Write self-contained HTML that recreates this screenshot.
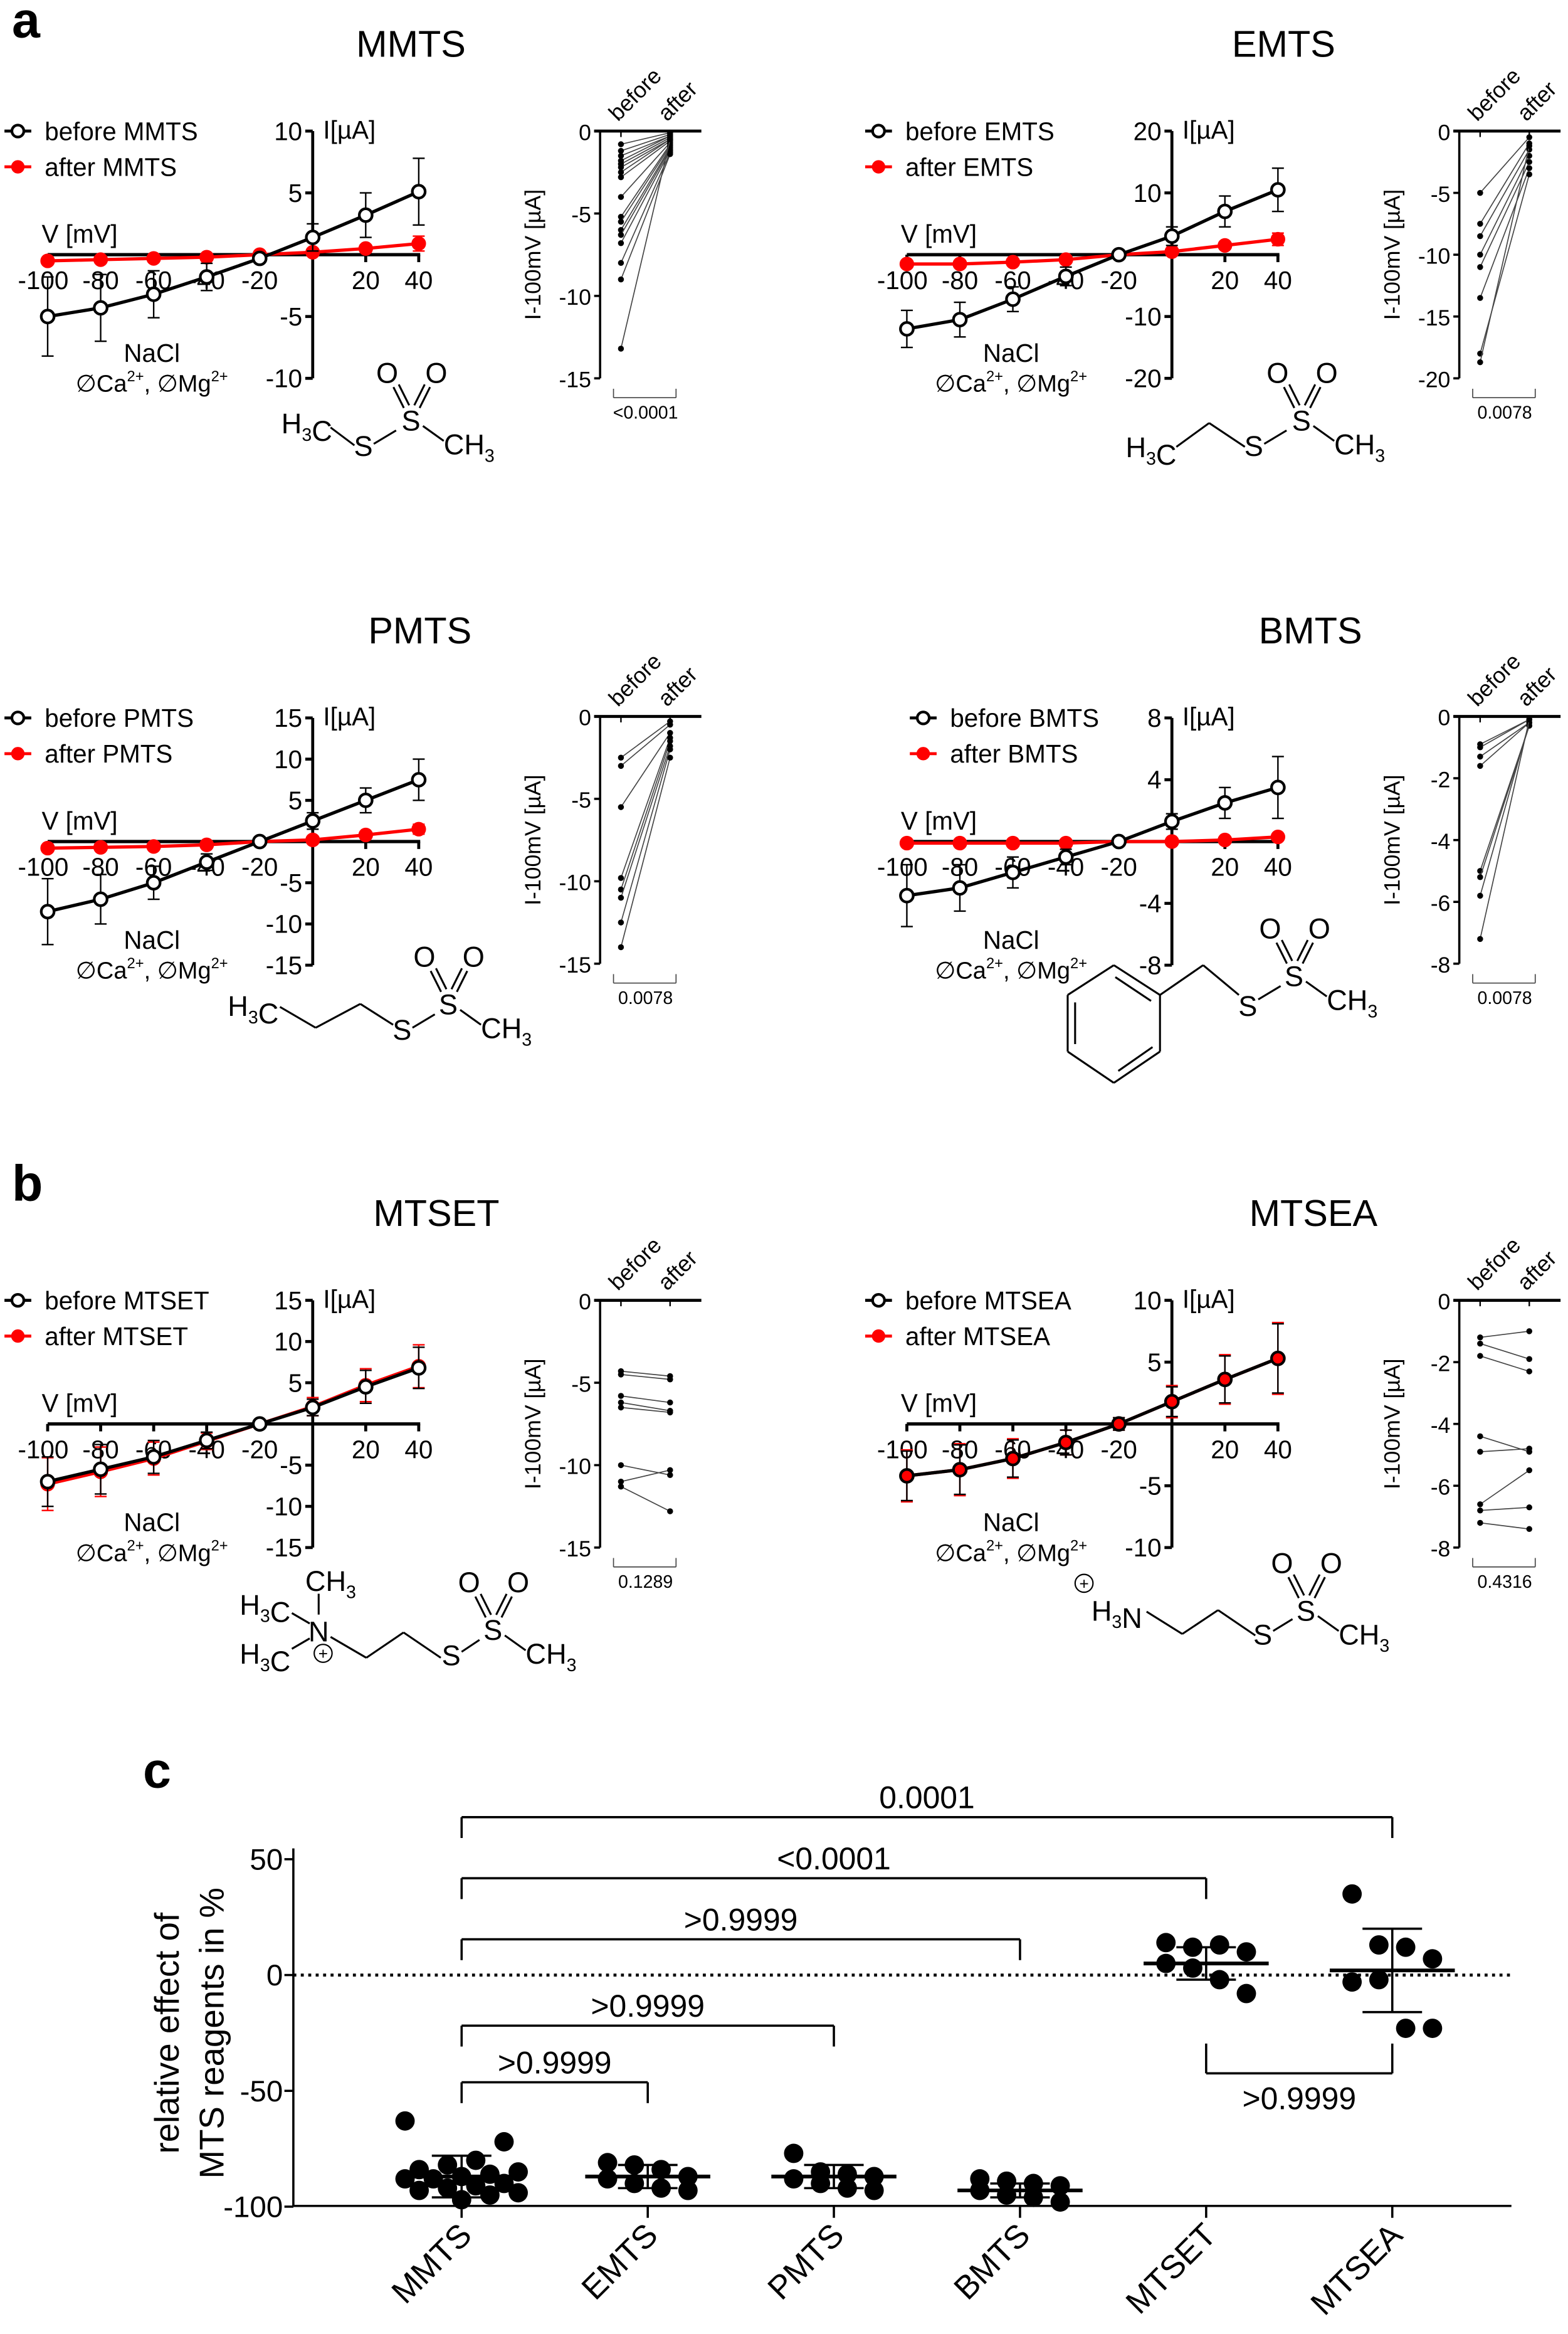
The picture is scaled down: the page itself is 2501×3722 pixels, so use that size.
<!DOCTYPE html>
<html><head><meta charset="utf-8"><style>
html,body{margin:0;padding:0;background:#fff}
svg{display:block}
text{font-family:"Liberation Sans",sans-serif;fill:#000}
</style></head><body>
<svg id="fig" xmlns="http://www.w3.org/2000/svg" width="2501" height="3722" viewBox="0 0 1053 1567" preserveAspectRatio="none">
<text x="8" y="25" font-size="34" font-weight="bold">a</text>
<text x="8" y="806" font-size="34" font-weight="bold">b</text>
<text x="96" y="1200" font-size="34" font-weight="bold">c</text>
</svg>
<script>
// ---------- IV data ----------
const volts = [-100,-80,-60,-40,-20,0,20,40];
const mmtsBefore = [-5,-4.3,-3.2,-1.8,-0.3,1.4,3.2,5.1];
const mmtsBeforeErr = [3.2,2.7,1.9,1.1,0.2,1.1,1.8,2.7];
const mmtsAfter = [-0.5,-0.4,-0.3,-0.2,0,0.2,0.5,0.9];
const mmtsAfterErr = [0.2,0.2,0.2,0.1,0.1,0.2,0.3,0.6];
const emtsBefore = [-12,-10.5,-7.2,-3.5,0,3,7,10.5];
const emtsBeforeErr = [3,2.8,2,1.5,0.5,1.5,2.5,3.5];
const emtsAfter = [-1.5,-1.5,-1.2,-0.8,0,0.5,1.5,2.5];
const emtsAfterErr = [0.3,0.3,0.3,0.2,0.2,0.3,0.5,1];
const pmtsBefore = [-8.5,-7,-5,-2.5,0,2.5,5,7.5];
const pmtsBeforeErr = [4,3,2,1,0.3,1,1.5,2.5];
const pmtsAfter = [-0.8,-0.7,-0.6,-0.4,0,0.2,0.8,1.5];
const pmtsAfterErr = [0.2,0.2,0.2,0.2,0.1,0.2,0.3,0.6];
const bmtsBefore = [-3.5,-3,-2,-1,0,1.3,2.5,3.5];
const bmtsBeforeErr = [2,1.5,1,0.5,0.2,0.5,1,2];
const bmtsAfter = [-0.1,-0.1,-0.1,-0.1,0,0,0.1,0.3];
const bmtsAfterErr = [0.05,0.05,0.05,0.05,0.05,0.05,0.1,0.2];
const mtsetBefore = [-7,-5.5,-4,-2,0,2,4.5,6.8];
const mtsetBeforeErr = [3,3,2,1,0.5,1,2,2.5];
const mtsetAfter = [-7.3,-5.8,-4.2,-2.1,0,2.1,4.7,7];
const mtsetAfterErr = [3.2,3,2,1,0.5,1.1,2,2.6];
const mtseaBefore = [-4.2,-3.7,-2.8,-1.5,0,1.8,3.6,5.3];
const mtseaBeforeErr = [2,2,1.5,1,0.5,1.2,1.9,2.8];
const mtseaAfter = [-4.2,-3.7,-2.8,-1.5,0,1.8,3.6,5.3];
const mtseaAfterErr = [2.1,2.1,1.6,1,0.5,1.3,2,2.9];
// ---------- paired data ----------
const mmtsPairBefore = [-0.8,-1.2,-1.5,-1.8,-2,-2.2,-2.5,-2.8,-4,-5.2,-5.5,-6,-6.3,-6.8,-8,-9,-13.2];
const mmtsPairAfter = [-0.1,-0.2,-0.3,-0.3,-0.4,-0.5,-0.5,-0.6,-0.7,-0.8,-0.9,-1,-1.1,-1.2,-1.3,-1.4,-0.5];
const emtsPairBefore = [-5,-7.5,-8.5,-10,-11,-13.5,-18,-18.7];
const emtsPairAfter = [-0.5,-1,-1.5,-2,-2.5,-3,-3.5,-1.2];
const pmtsPairBefore = [-2.5,-3,-5.5,-9.8,-10.5,-11,-12.5,-14];
const pmtsPairAfter = [-0.3,-0.5,-1,-1.3,-1.5,-1.8,-2,-2.5];
const bmtsPairBefore = [-0.9,-1,-1.3,-1.6,-5,-5.2,-5.8,-7.2];
const bmtsPairAfter = [-0.1,-0.1,-0.2,-0.2,-0.3,-0.3,-0.2,-0.1];
const mtsetPairBefore = [-4.3,-4.5,-5.8,-6.2,-6.5,-10,-11,-11.3];
const mtsetPairAfter = [-4.6,-4.8,-6.2,-6.7,-6.8,-10.6,-10.3,-12.8];
const mtseaPairBefore = [-1.2,-1.4,-1.8,-4.4,-4.9,-6.6,-6.8,-7.2];
const mtseaPairAfter = [-1,-1.9,-2.3,-4.9,-4.8,-5.5,-6.7,-7.4];
// ---------- panel c data ----------
const cCategories = ['MMTS','EMTS','PMTS','BMTS','MTSET','MTSEA'];
const cMmts = [-63,-72,-80,-82,-84,-85,-86,-87,-88,-88,-90,-91,-92,-93,-94,-95,-97];
const cEmts = [-81,-82,-84,-87,-88,-90,-92,-93];
const cPmts = [-77,-85,-86,-87,-88,-90,-92,-93];
const cBmts = [-88,-89,-90,-91,-93,-95,-96,-98];
const cMtset = [14,12,13,10,5,3,-2,-8];
const cMtsea = [35,13,12,7,-3,-2,-23,-23];
const cMeans = [-87,-87,-87,-93,5,2];
const cSds = [9,5,5,3,7,18];
const cYTicks = [50,0,-50,-100];
const cCompLabels = ['0.0001','<0.0001','>0.9999','>0.9999','>0.9999','>0.9999'];

const svg = document.getElementById('fig');
const NS = 'http://www.w3.org/2000/svg';
function el(tag, a, parent){ const e=document.createElementNS(NS,tag); for(const k in a) e.setAttribute(k,a[k]); (parent||svg).appendChild(e); return e; }
function line(x1,y1,x2,y2,w,c,name,p){ const e=el('line',{x1,y1,x2,y2,stroke:c||'#000','stroke-width':w||1.5},p);
  
   return e; }
function txt(x,y,s,size,anchor,name,p){ const e=el('text',{x,y,'font-size':size,'text-anchor':anchor||'start'},p); e.innerHTML=s;
  
   return e; }

function ivPanel(cfg){
  const g=el('g',{});
  
  
  const ax=cfg.ax;
  const sx=v=>ax+v*1.78;
  const sy=v=>cfg.yTopPx+(cfg.yMax-v)*(cfg.yBotPx-cfg.yTopPx)/(cfg.yMax-cfg.yMin);
  const y0=sy(0);
  txt(cfg.titleX, cfg.yTopPx-50, cfg.name, 25, 'middle', 'chart-title', g);
  line(ax,cfg.yTopPx,ax,cfg.yBotPx,2,'#000','y-axis',g);
  line(sx(-100),y0,sx(40)+1,y0,2.2,'#000','x-axis',g);
  cfg.yTicks.forEach(t=>{ line(ax-5,sy(t),ax,sy(t),2,'#000','y-tick',g); txt(ax-7,sy(t)+6,String(t),17,'end','y-tick-label',g); });
  volts.forEach(v=>{ if(v!==0){ line(sx(v),y0,sx(v),y0+5,2,'#000','x-tick',g); } });
  volts.forEach(v=>{ if(v!==0) txt(sx(v)+(v===-100?-3:0),y0+23,String(v),17,'middle','x-tick-label',g); });
  txt(sx(-100)-4,y0-8,'V [mV]',17,'start','x-axis-title',g);
  txt(ax+7,cfg.yTopPx+5,'I[µA]',17,'start','y-axis-title',g);
  const series=[[cfg.after,cfg.afterErr,'#f00','after'],[cfg.before,cfg.beforeErr,'#000','before']];
  series.forEach(([vals,errs,col,lab])=>{
    volts.forEach((v,i)=>{ const x=sx(v);
      line(x,sy(vals[i]+errs[i]),x,sy(vals[i]-errs[i]),1,col,lab+'-error-bar',g);
      line(x-4,sy(vals[i]+errs[i]),x+4,sy(vals[i]+errs[i]),1,col,lab+'-error-cap',g);
      line(x-4,sy(vals[i]-errs[i]),x+4,sy(vals[i]-errs[i]),1,col,lab+'-error-cap',g); });
    const pl=el('polyline',{points:volts.map((v,i)=>sx(v)+','+sy(vals[i])).join(' '),fill:'none',stroke:col,'stroke-width':2.2},g);
    
    
    volts.forEach((v,i)=>{ const c=el('circle',{cx:sx(v),cy:sy(vals[i]),r:lab==='before'?4.3:4,fill:lab==='before'?(cfg.filledBefore?'#f00':'#fff'):'#f00',stroke:lab==='before'?'#000':'#f00','stroke-width':1.8},g);
      
       });
  });
  const lx=cfg.legX, ly=cfg.legY;
  line(lx-9,ly,lx+9,ly,2,'#000','legend-before-line',g);
  const c1=el('circle',{cx:lx,cy:ly,r:4,fill:'#fff',stroke:'#000','stroke-width':1.8},g);
  
  
  txt(lx+18,ly+6,'before '+cfg.name,17,'start','legend-before',g);
  line(lx-9,ly+24,lx+9,ly+24,2,'#f00','legend-after-line',g);
  const c2=el('circle',{cx:lx,cy:ly+24,r:4,fill:'#f00',stroke:'#f00'},g);
  
  
  txt(lx+18,ly+30,'after '+cfg.name,17,'start','legend-after',g);
  const nx=cfg.ax-108, ny=cfg.yBotPx-11;
  txt(nx,ny,'NaCl',17,'middle','solution-label',g);
  txt(nx,ny+20,'∅Ca<tspan font-size="10" dy="-7">2+</tspan><tspan dy="7">, ∅Mg</tspan><tspan font-size="10" dy="-7">2+</tspan>',16,'middle','ion-conditions',g);
}

function pairPanel(cfg){
  const g=el('g',{});
  
  
  const ax=cfg.ax, top=cfg.top, bot=cfg.top+166;
  const sy=v=>top+(0-v)*(bot-top)/(0-cfg.yMin);
  const xb=ax+14, xa=ax+47;
  line(ax,top,ax,bot,1.5,'#000','y-axis',g);
  line(ax-4,top,ax+68,top,2,'#000','zero-line',g);
  line(xb,top,xb,top+4,1,'#000','x-tick',g); line(xa,top,xa,top+4,1,'#000','x-tick',g);
  cfg.ticks.forEach(t=>{ line(ax-4,sy(t),ax,sy(t),1.5,'#000','y-tick',g); txt(ax-6,sy(t)+6,String(t),15,'end','y-tick-label',g); });
  const tb=txt(0,0,'before',15,'start','x-label-before',g); tb.setAttribute('transform',`translate(${xb-2},${top-6}) rotate(-45)`);
  const ta=txt(0,0,'after',15,'start','x-label-after',g); ta.setAttribute('transform',`translate(${xa-2},${top-6}) rotate(-45)`);
  const yl=txt(0,0,'I-100mV [µA]',15,'middle','y-axis-title',g); yl.setAttribute('transform',`translate(${ax-40},${(top+bot)/2}) rotate(-90)`);
  cfg.before.forEach((b,i)=>{ line(xb,sy(b),xa,sy(cfg.after[i]),0.7,'#444','pair-line',g);
    const c=el('circle',{cx:xb,cy:sy(b),r:2,fill:'#000'},g);
    
    
    const d=el('circle',{cx:xa,cy:sy(cfg.after[i]),r:2,fill:'#000'},g);
    
     });
  const py=bot+13;
  line(xb-5,py-6,xb-5,py,0.7,'#444','p-bracket',g); line(xa+4,py-6,xa+4,py,0.7,'#444','p-bracket',g); line(xb-5,py,xa+4,py,0.7,'#444','p-bracket',g);
  txt((xb+xa)/2,py+14,cfg.p,12,'middle','p-value',g);
}

ivPanel({name:'MMTS',titleX:276,ax:210,yTopPx:88,yBotPx:254,yMax:10,yMin:-10,yTicks:[10,5,-5,-10],before:mmtsBefore,beforeErr:mmtsBeforeErr,after:mmtsAfter,afterErr:mmtsAfterErr,legX:12,legY:88});
ivPanel({name:'EMTS',titleX:862,ax:787,yTopPx:88,yBotPx:254,yMax:20,yMin:-20,yTicks:[20,10,-10,-20],before:emtsBefore,beforeErr:emtsBeforeErr,after:emtsAfter,afterErr:emtsAfterErr,legX:590,legY:88});
ivPanel({name:'PMTS',titleX:282,ax:210,yTopPx:482,yBotPx:648,yMax:15,yMin:-15,yTicks:[15,10,5,-5,-10,-15],before:pmtsBefore,beforeErr:pmtsBeforeErr,after:pmtsAfter,afterErr:pmtsAfterErr,legX:12,legY:482});
ivPanel({name:'BMTS',titleX:880,ax:787,yTopPx:482,yBotPx:648,yMax:8,yMin:-8,yTicks:[8,4,-4,-8],before:bmtsBefore,beforeErr:bmtsBeforeErr,after:bmtsAfter,afterErr:bmtsAfterErr,legX:620,legY:482});
ivPanel({name:'MTSET',titleX:293,ax:210,yTopPx:873,yBotPx:1039,yMax:15,yMin:-15,yTicks:[15,10,5,-5,-10,-15],before:mtsetBefore,beforeErr:mtsetBeforeErr,after:mtsetAfter,afterErr:mtsetAfterErr,legX:12,legY:873});
ivPanel({name:'MTSEA',titleX:882,ax:787,yTopPx:873,yBotPx:1039,yMax:10,yMin:-10,yTicks:[10,5,-5,-10],before:mtseaBefore,beforeErr:mtseaBeforeErr,after:mtseaAfter,afterErr:mtseaAfterErr,legX:590,legY:873,filledBefore:true});

pairPanel({name:'MMTS',ax:403,top:88,yMin:-15,ticks:[0,-5,-10,-15],before:mmtsPairBefore,after:mmtsPairAfter,p:'&lt;0.0001'});
pairPanel({name:'EMTS',ax:980,top:88,yMin:-20,ticks:[0,-5,-10,-15,-20],before:emtsPairBefore,after:emtsPairAfter,p:'0.0078'});
pairPanel({name:'PMTS',ax:403,top:481,yMin:-15,ticks:[0,-5,-10,-15],before:pmtsPairBefore,after:pmtsPairAfter,p:'0.0078'});
pairPanel({name:'BMTS',ax:980,top:481,yMin:-8,ticks:[0,-2,-4,-6,-8],before:bmtsPairBefore,after:bmtsPairAfter,p:'0.0078'});
pairPanel({name:'MTSET',ax:403,top:873,yMin:-15,ticks:[0,-5,-10,-15],before:mtsetPairBefore,after:mtsetPairAfter,p:'0.1289'});
pairPanel({name:'MTSEA',ax:980,top:873,yMin:-8,ticks:[0,-2,-4,-6,-8],before:mtseaPairBefore,after:mtseaPairAfter,p:'0.4316'});

// ---------- molecules ----------
const sub=s=>s.replace(/(\d)/g,'<tspan font-size="12" dy="5">$1</tspan><tspan dy="-5"></tspan>');
function mol(name,items){
  const g=el('g',{});
  
  
  items.forEach(it=>{
    if(it[0]==='t') txt(it[1],it[2],sub(it[3]),19,it[4]||'middle','atom-label',g);
    else if(it[0]==='l') line(it[1],it[2],it[3],it[4],1.3,'#000','bond',g);
    else if(it[0]==='d'){ const [_,x1,y1,x2,y2]=it; const dx=y2-y1,dy=x1-x2,L=Math.hypot(dx,dy),ox=dx/L*2,oy=dy/L*2;
      line(x1+ox,y1+oy,x2+ox,y2+oy,1.3,'#000','double-bond',g); line(x1-ox,y1-oy,x2-ox,y2-oy,1.3,'#000','double-bond',g); }
    else if(it[0]==='p'){ const c=el('circle',{cx:it[1],cy:it[2],r:6,fill:'none',stroke:'#000','stroke-width':0.9},g);
      
      
      txt(it[1],it[2]+4,'+',11,'middle','charge-plus',g); }
  });
}
function sulfonyl(sx,sy){ return [['t',sx,sy+6,'S'],['t',sx-16,sy-26,'O'],['t',sx+17,sy-26,'O'],['d',sx-3,sy-10,sx-10,sy-24],['d',sx+4,sy-10,sx+11,sy-24],['l',sx+8,sy+3,sx+22,sy+13],['t',sx+22,sy+22,'CH3','start']]; }
mol('MMTS',[['t',206,291,'H3C'],['l',222,287,238,299],['t',244,306,'S'],['l',251,298,266,289]].concat(sulfonyl(276,283)));
mol('EMTS',[['t',773,307,'H3C'],['l',790,300,812,284],['l',812,284,836,300],['t',842,306,'S'],['l',849,298,864,289]].concat(sulfonyl(874,283)));
mol('PMTS',[['t',170,682,'H3C'],['l',188,676,212,690],['l',212,690,242,674],['l',242,674,264,688],['t',270,698,'S'],['l',277,690,292,681]].concat(sulfonyl(301,675)));
mol('BMTS',[['l',748,648,779,668],['l',779,668,779,706],['l',779,706,748,727],['l',748,727,717,706],['l',717,706,717,668],['l',717,668,748,648],
  ['l',749,656,773,672],['l',774,703,751,719],['l',722,673,722,701],['l',779,668,808,648],['l',808,648,832,668],['t',838,682,'S'],['l',845,671,860,662]].concat(sulfonyl(869,656)));
mol('MTSET',[['t',178,1084,'H3C'],['t',214,1102,'N'],['t',205,1068,'CH3','start'],['l',214,1070,214,1084],['t',178,1117,'H3C'],['l',196,1083,208,1090],['l',196,1107,208,1100],['p',217,1110],
  ['l',222,1099,246,1113],['l',246,1113,271,1096],['l',271,1096,296,1113],['t',303,1118,'S'],['l',310,1109,322,1101]].concat(sulfonyl(331,1095)));
mol('MTSEA',[['p',728,1063],['t',750,1088,'H3N'],['l',770,1082,794,1097],['l',794,1097,818,1081],['l',818,1081,843,1098],['t',848,1104,'S'],['l',855,1095,868,1087]].concat(sulfonyl(877,1082)));

// ---------- panel c ----------
(function(){
  const g=el('g',{});
  
  
  const ax=197, sy=v=>1326-v*1.555, cx=i=>310+i*125;
  line(ax,1241,ax,1481,1.5,'#000','y-axis',g);
  line(ax,1481,1015,1481,1.5,'#000','x-axis',g);
  const dl=line(ax,1326,1015,1326,2,'#000','zero-reference-line',g); dl.setAttribute('stroke-dasharray','2,3');
  cYTicks.forEach(t=>{ line(ax-6,sy(t),ax,sy(t),1.5,'#000','y-tick',g); txt(ax-7,sy(t)+7,String(t),20,'end','y-tick-label',g); });
  const t1=txt(0,0,'relative effect of',23,'middle','y-axis-title-line1',g); t1.setAttribute('transform','translate(120,1365) rotate(-90)');
  const t2=txt(0,0,'MTS reagents in %',23,'middle','y-axis-title-line2',g); t2.setAttribute('transform','translate(150,1365) rotate(-90)');
  cCategories.forEach((c,i)=>{ line(cx(i),1481,cx(i),1489,1.5,'#000','x-tick',g);
    const t=txt(0,0,c,22,'end','category-label',g); t.setAttribute('transform',`translate(${cx(i)+8},${1502}) rotate(-45)`); });
  const groups=[cMmts,cEmts,cPmts,cBmts,cMtset,cMtsea];
  groups.forEach((vals,i)=>{
    const n=vals.length, spread=n>10?38:30;
    vals.forEach((v,j)=>{ const off=n>10?(((j*7)%9)-4)/4*spread:((j%4)-1.5)/1.5*spread*0.9;
      const c=el('circle',{cx:cx(i)+off,cy:sy(v),r:6.5,fill:'#000'},g);
      
       });
    const m=cMeans[i], s=cSds[i];
    line(cx(i)-42,sy(m),cx(i)+42,sy(m),2.5,'#000','mean-line',g);
    line(cx(i),sy(m+s),cx(i),sy(m-s),1.5,'#000','sd-bar',g);
    line(cx(i)-20,sy(m+s),cx(i)+20,sy(m+s),1.5,'#000','sd-cap',g);
    line(cx(i)-20,sy(m-s),cx(i)+20,sy(m-s),1.5,'#000','sd-cap',g);
  });
  const comps=[[0,5,1220],[0,4,1261],[0,3,1302],[0,2,1360],[0,1,1398]];
  comps.forEach(([a,b,y],k)=>{ line(cx(a),y,cx(a),y+14,1.5,'#000','comparison-bracket',g); line(cx(b),y,cx(b),y+14,1.5,'#000','comparison-bracket',g); line(cx(a),y,cx(b),y,1.5,'#000','comparison-bracket',g);
    txt((cx(a)+cx(b))/2,y-6,cCompLabels[k].replace('<','&lt;').replace('>','&gt;'),21,'middle','comparison-p-value',g); });
  line(cx(4),1372,cx(4),1392,1.5,'#000','comparison-bracket',g); line(cx(5),1372,cx(5),1392,1.5,'#000','comparison-bracket',g); line(cx(4),1392,cx(5),1392,1.5,'#000','comparison-bracket',g);
  txt((cx(4)+cx(5))/2,1416,'&gt;0.9999',21,'middle','comparison-p-value',g);
})();
</script>
</body></html>
